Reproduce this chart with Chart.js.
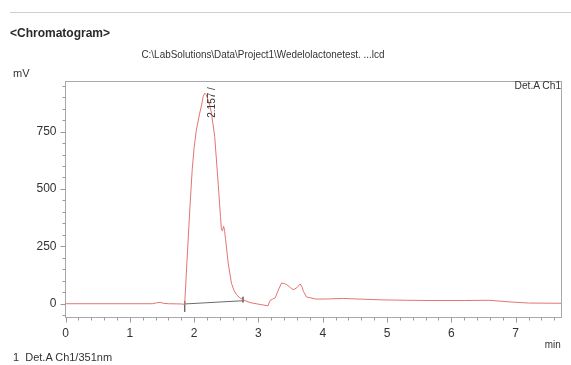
<!DOCTYPE html>
<html>
<head>
<meta charset="utf-8">
<script src="https://cdn.jsdelivr.net/npm/chart.js@4/dist/chart.umd.min.js"></script>
<style>
  html, body { margin: 0; padding: 0; background: #ffffff; }
  #wrap { position: relative; width: 571px; height: 365px; overflow: hidden; background: #fff;
          font-family: "Liberation Sans", Arial, sans-serif; color: #333; }
  #c { position: absolute; left: 0; top: 0; }
  .t { position: absolute; white-space: pre; line-height: 14px; }
</style>
</head>
<body>
<div id="wrap">
  <canvas id="c" width="571" height="365"></canvas>
  <div style="position:absolute;left:10px;top:12px;width:561px;height:1px;background:#cfcfcf;"></div>
  <div class="t" style="left:10px;top:26px;font-weight:bold;font-size:12px;color:#2a2a2a;">&lt;Chromatogram&gt;</div>
  <div class="t" style="left:263px;top:47px;font-size:11px;transform:translateX(-50%) scaleX(0.9);">C:\LabSolutions\Data\Project1\Wedelolactonetest. ...lcd</div>
  <div class="t" style="left:13px;top:66px;font-size:11px;">mV</div>
  <div class="t" style="right:10px;top:78px;font-size:11px;transform-origin:right center;transform:scaleX(0.93);">Det.A Ch1</div>
  <div class="t" style="right:10px;top:337px;font-size:11px;transform-origin:right center;transform:scaleX(0.9);">min</div>
  <div class="t" style="left:13px;top:350px;font-size:11px;">1  Det.A Ch1/351nm</div>
</div>
<script>
// ---- data ----
const retentionTimes = [0, 1.35, 1.42, 1.47, 1.52, 1.6, 1.8, 1.853, 1.89, 1.93, 1.97, 2.0, 2.035, 2.087, 2.12, 2.14, 2.165, 2.19, 2.217, 2.245, 2.27, 2.32, 2.37, 2.41, 2.425, 2.44, 2.46, 2.475, 2.49, 2.53, 2.58, 2.62, 2.66, 2.71, 2.76, 2.87, 3.0, 3.15, 3.18, 3.22, 3.26, 3.31, 3.36, 3.40, 3.44, 3.50, 3.54, 3.59, 3.65, 3.68, 3.70, 3.75, 3.9, 4.1, 4.32, 4.6, 4.89, 5.3, 5.67, 6.2, 6.6, 6.9, 7.2, 7.713];
const signalMv = [0, 0, 4, 6, 2, 0, -1, -3, 190, 395, 583, 680, 757, 830, 870, 902, 917, 910, 888, 862, 830, 728, 540, 380, 322, 318, 337, 315, 279, 177, 90, 58, 39, 26, 17, 5, -2, -9, 14, 20, 25, 60, 90, 88, 83, 70, 61, 68, 86, 72, 54, 29, 20, 21, 23, 20, 17, 15, 14, 14, 15, 8, 3, 2];
const baselineTimes = [1.853, 2.76];
const baselineValues = [-1, 13];
const markerTimes = [1.853, 2.76];
const markerTop = [12, 30];
const markerBottom = [-35, 6];
const peakTimes = [2.157];
const peakLabels = ['2.157 /'];
const xTickLabels = ['0', '1', '2', '3', '4', '5', '6', '7'];
const yTickLabels = ['0', '250', '500', '750'];
const xRange = [0, 7.713];
const yRange = [-60, 968];

const traceData = retentionTimes.map((t, i) => ({ x: t, y: signalMv[i] }));
const baseData = baselineTimes.map((t, i) => ({ x: t, y: baselineValues[i] }));
const markerSets = markerTimes.map((t, i) => ({
  data: [{ x: t, y: markerTop[i] }, { x: t, y: markerBottom[i] }],
  borderColor: '#6a6a6a', borderWidth: 1, pointRadius: 0, tension: 0
}));

const frame = {
  id: 'frame',
  afterDraw(chart) {
    const { ctx, chartArea: a, scales } = chart;
    const xs = scales.x, ys = scales.y;
    ctx.save();
    ctx.strokeStyle = '#a8a8a8';
    ctx.lineWidth = 1;
    ctx.strokeRect(a.left, a.top, a.right - a.left, a.bottom - a.top);
    ctx.strokeStyle = '#9a9a9a';
    ctx.beginPath();
    xs.ticks.forEach(tk => {
      const major = Math.abs(tk.value - Math.round(tk.value)) < 1e-6;
      const px = Math.round(xs.getPixelForValue(tk.value)) + 0.5;
      ctx.moveTo(px, a.bottom);
      ctx.lineTo(px, a.bottom + (major ? 5 : 3));
    });
    ys.ticks.forEach(tk => {
      const major = Math.abs(tk.value % 250) < 1e-6;
      const py = Math.round(ys.getPixelForValue(tk.value)) + 0.5;
      ctx.moveTo(a.left, py);
      ctx.lineTo(a.left - (major ? 5 : 3), py);
    });
    ctx.stroke();
    ctx.fillStyle = '#333';
    ctx.font = '10px "Liberation Sans", Arial, sans-serif';
    ctx.textBaseline = 'middle';
    ctx.textAlign = 'left';
    peakTimes.forEach((t, i) => {
      const px = xs.getPixelForValue(t) + 8;
      const py = ys.getPixelForValue(810);
      ctx.save();
      ctx.translate(px, py);
      ctx.rotate(-Math.PI / 2);
      ctx.fillText(peakLabels[i], 0, 0);
      ctx.restore();
    });
    ctx.restore();
  }
};

new Chart(document.getElementById('c'), {
  type: 'line',
  data: {
    datasets: [
      { data: traceData, borderColor: '#e27572', borderWidth: 1, pointRadius: 0, tension: 0 },
      { data: baseData, borderColor: '#6a6a6a', borderWidth: 1, pointRadius: 0, tension: 0 },
      ...markerSets
    ]
  },
  options: {
    responsive: false,
    animation: false,
    devicePixelRatio: 1,
    layout: { padding: { left: 15.5, top: 81.5, right: 9.5, bottom: 17.5 } },
    plugins: { legend: { display: false }, tooltip: { enabled: false } },
    scales: {
      x: {
        type: 'linear', min: xRange[0], max: xRange[1],
        border: { display: false },
        grid: { display: false, drawTicks: false, tickLength: 0 },
        afterFit(s) { s.height = 30; },
        ticks: {
          stepSize: 0.2, includeBounds: false, autoSkip: false, maxRotation: 0, padding: 9,
          color: '#333', font: { family: '"Liberation Sans", Arial, sans-serif', size: 12 },
          callback(v) {
            const r = Math.round(v);
            return Math.abs(v - r) < 1e-6 && xTickLabels.includes(String(r)) ? String(r) : '';
          }
        }
      },
      y: {
        type: 'linear', min: yRange[0], max: yRange[1],
        border: { display: false },
        grid: { display: false, drawTicks: false, tickLength: 0 },
        afterFit(s) { s.width = 50; },
        ticks: {
          stepSize: 50, includeBounds: false, autoSkip: false, padding: 9,
          color: '#333', font: { family: '"Liberation Sans", Arial, sans-serif', size: 12 },
          callback(v) {
            const r = Math.round(v);
            return yTickLabels.includes(String(r)) && Math.abs(v - r) < 1e-6 ? String(r) : '';
          }
        }
      }
    }
  },
  plugins: [frame]
});
</script>
</body>
</html>
